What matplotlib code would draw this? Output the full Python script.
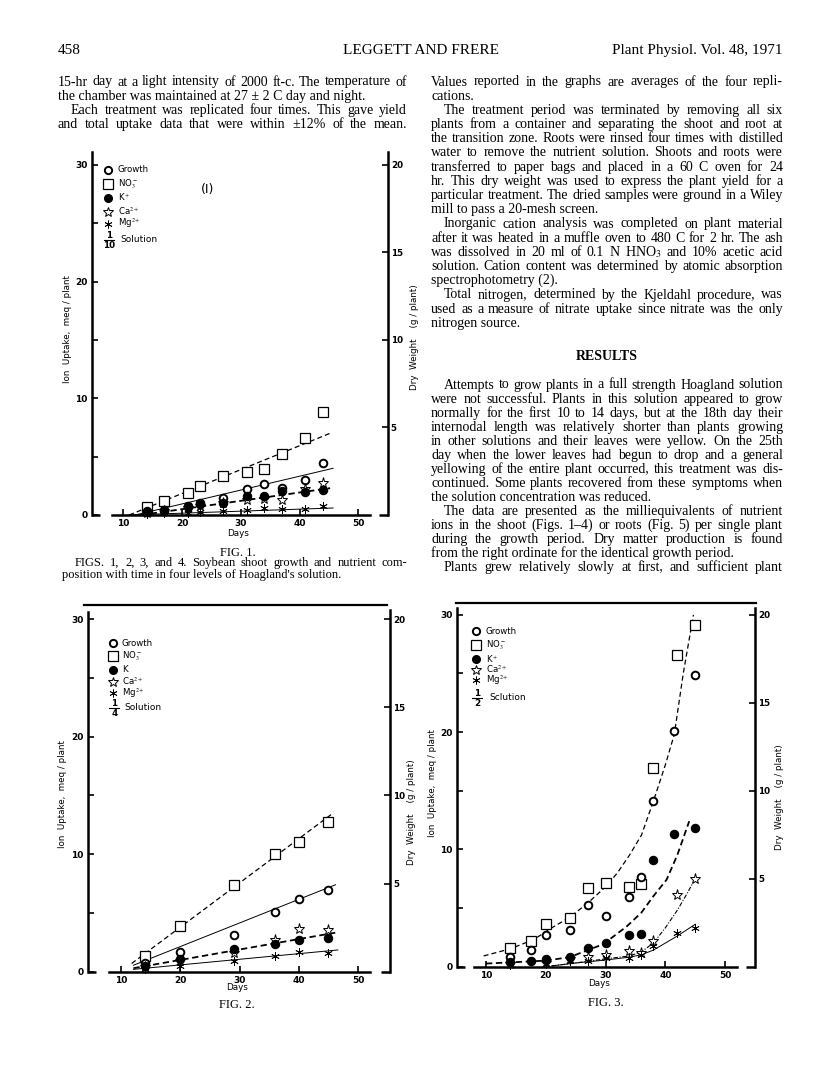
import matplotlib
matplotlib.use("Agg")
import matplotlib.pyplot as plt
from matplotlib.lines import Line2D
from matplotlib.transforms import Affine2D

plt.rcParams["mathtext.fontset"] = "stix"

W, H = 816, 1076
SERIF = ["Liberation Serif", "DejaVu Serif"]
SANS = ["DejaVu Sans"]

# %% Data (all in left-axis units, meq/plant)
# Fig. 1 (1/10 solution)
f1_days = [14, 17, 21, 23, 27, 31, 34, 37, 41, 44]
f1_growth = [0.25, 0.45, 0.8, 1.0, 1.45, 2.2, 2.65, 2.35, 3.0, 4.45]
f1_no3 = [0.7, 1.2, 1.9, 2.5, 3.3, 3.7, 3.9, 5.2, 6.6, 8.8]
f1_k = [0.3, 0.35, 0.7, 0.95, 1.05, 1.6, 1.65, 2.05, 1.95, 2.1]
f1_ca = [0.2, 0.3, 0.6, 0.8, 1.0, 1.3, 1.4, 1.3, 2.25, 2.75]
f1_mg = [0.1, 0.15, 0.2, 0.25, 0.3, 0.4, 0.6, 0.5, 0.5, 0.75]
f1_fit_no3 = ([11, 45.2], [0, 7.0])
f1_fit_growth = ([12, 45.7], [0, 4.0])
f1_fit_k = ([13, 45.2], [0, 2.3])
f1_fit_mg = ([11, 45.7], [0, 0.6])

# Fig. 2 (1/4 solution)
f2_days = [14, 20, 29, 36, 40, 45]
f2_growth = [0.7, 1.65, 3.15, 5.1, 6.2, 6.95]
f2_no3 = [1.3, 3.85, 7.35, 10.0, 11.0, 12.7]
f2_k = [0.5, 1.05, 1.9, 2.35, 2.7, 2.85]
f2_ca = [0.4, 0.9, 1.6, 2.7, 3.65, 3.55]
f2_mg = [0.2, 0.5, 0.95, 1.35, 1.7, 1.55]
f2_fit_no3 = ([11.8, 45.8], [0.7, 13.5])
f2_fit_growth = ([12.1, 46.2], [0.55, 7.4])
f2_fit_k = ([12.1, 46.5], [0.3, 3.35])
f2_fit_mg = ([12.1, 46.6], [0.2, 1.85])

# Fig. 3 (1/2 solution)
f3_days = [14, 17.5, 20, 24, 27, 30, 34, 36, 38, 41.5, 45]
f3_days_no3 = [14, 17.5, 20, 24, 27, 30, 34, 36, 38, 42, 45]
f3_growth = [0.8, 1.45, 2.7, 3.15, 5.25, 4.35, 5.9, 7.6, 14.1, 20.1, 24.9]
f3_no3 = [1.6, 2.2, 3.6, 4.1, 6.7, 7.1, 6.8, 7.0, 16.9, 26.6, 29.1]
f3_k = [0.35, 0.45, 0.6, 0.85, 1.55, 2.0, 2.65, 2.75, 9.05, 11.3, 11.8]
f3_days_cm = [14, 20, 24, 27, 30, 34, 36, 38, 42, 45]
f3_ca = [0.2, 0.3, 0.65, 0.8, 0.95, 1.35, 1.15, 2.2, 6.1, 7.45]
f3_mg = [0.15, 0.2, 0.45, 0.5, 0.7, 0.75, 0.95, 1.75, 2.85, 3.25]
f3_fit_no3 = ([9.6, 14, 18, 21, 24, 27, 30, 32, 34, 36, 38, 40, 41.5, 43, 44.7],
              [0.9, 1.5, 2.3, 3.3, 4.2, 5.4, 6.8, 8.0, 9.5, 11.2, 14.1, 17.2, 19.8, 25.0, 30.0])
f3_fit_k = ([10, 20, 24, 29.6, 33.5, 36, 38, 40.2, 42, 44],
            [0.25, 0.5, 0.8, 1.9, 3.4, 4.6, 6.0, 7.4, 9.5, 12.4])
f3_fit_ca = ([21, 25, 30, 34, 36, 38, 40, 42, 43.5, 45],
             [0.05, 0.3, 0.65, 0.9, 1.25, 2.0, 3.3, 4.8, 6.1, 7.5])
f3_fit_mg = ([21, 25, 30, 34, 36, 38, 40, 42, 45],
             [0.05, 0.3, 0.55, 0.8, 1.0, 1.4, 2.0, 2.6, 3.6])

# %% Page text
header = ("458", "LEGGETT AND FRERE", "Plant Physiol. Vol. 48, 1971")
left_col = [
    ("15-hr day at a light intensity of 2000 ft-c. The temperature of", 0, True),
    ("the chamber was maintained at 27 ± 2 C day and night.", 0, False),
    ("Each treatment was replicated four times. This gave yield", 1, True),
    ("and total uptake data that were within ±12% of the mean.", 0, True),
]
right_col = [
    ("Values reported in the graphs are averages of the four repli-", 0, True),
    ("cations.", 0, False),
    ("The treatment period was terminated by removing all six", 1, True),
    ("plants from a container and separating the shoot and root at", 0, True),
    ("the transition zone. Roots were rinsed four times with distilled", 0, True),
    ("water to remove the nutrient solution. Shoots and roots were", 0, True),
    ("transferred to paper bags and placed in a 60 C oven for 24", 0, True),
    ("hr. This dry weight was used to express the plant yield for a", 0, True),
    ("particular treatment. The dried samples were ground in a Wiley", 0, True),
    ("mill to pass a 20-mesh screen.", 0, False),
    ("Inorganic cation analysis was completed on plant material", 1, True),
    ("after it was heated in a muffle oven to 480 C for 2 hr. The ash", 0, True),
    ("was dissolved in 20 ml of 0.1 N HNO$_3$ and 10% acetic acid", 0, True),
    ("solution. Cation content was determined by atomic absorption", 0, True),
    ("spectrophotometry (2).", 0, False),
    ("Total nitrogen, determined by the Kjeldahl procedure, was", 1, True),
    ("used as a measure of nitrate uptake since nitrate was the only", 0, True),
    ("nitrogen source.", 0, False),
]
results_col = [
    ("Attempts to grow plants in a full strength Hoagland solution", 1, True),
    ("were not successful. Plants in this solution appeared to grow", 0, True),
    ("normally for the first 10 to 14 days, but at the 18th day their", 0, True),
    ("internodal length was relatively shorter than plants growing", 0, True),
    ("in other solutions and their leaves were yellow. On the 25th", 0, True),
    ("day when the lower leaves had begun to drop and a general", 0, True),
    ("yellowing of the entire plant occurred, this treatment was dis-", 0, True),
    ("continued. Some plants recovered from these symptoms when", 0, True),
    ("the solution concentration was reduced.", 0, False),
    ("The data are presented as the milliequivalents of nutrient", 1, True),
    ("ions in the shoot (Figs. 1–4) or roots (Fig. 5) per single plant", 0, True),
    ("during the growth period. Dry matter production is found", 0, True),
    ("from the right ordinate for the identical growth period.", 0, False),
    ("Plants grew relatively slowly at first, and sufficient plant", 1, True),
]
caption = [
    ("FIGS. 1, 2, 3, and 4. Soybean shoot growth and nutrient com-", 1, True),
    ("position with time in four levels of Hoagland's solution.", 0, False),
]

fig = plt.figure(figsize=(W / 100, H / 100), dpi=100)
fig.patch.set_facecolor("white")
PX = Affine2D().scale(1 / W, -1 / H).translate(0, 1) + fig.transFigure
renderer = fig.canvas.get_renderer()


def text_w(s, size, weight="normal"):
    t = fig.text(0, 0, s, fontsize=size, family=SERIF, weight=weight)
    w = t.get_window_extent(renderer).width
    t.remove()
    return w


def put_line(s, x0, x1, y, size, justify):
    words = s.split(" ")
    if not justify or len(words) == 1:
        fig.text(x0, y, s, transform=PX, fontsize=size, family=SERIF, va="baseline")
        return
    widths = [text_w(w, size) for w in words]
    gap = max((x1 - x0 - sum(widths)) / (len(words) - 1), 1.8)
    x = x0
    for w, wd in zip(words, widths):
        fig.text(x, y, w, transform=PX, fontsize=size, family=SERIF, va="baseline")
        x += wd + gap


def put_block(lines, x0, x1, y0, step, size=10.0, indent=13):
    for i, (s, ind, just) in enumerate(lines):
        put_line(s, x0 + ind * indent, x1, y0 + i * step, size, just)


# %% Header and body text
fig.text(58, 54, header[0], transform=PX, fontsize=11, family=SERIF, va="baseline")
fig.text(421, 54, header[1], transform=PX, fontsize=11, family=SERIF, va="baseline", ha="center")
fig.text(783, 54, header[2], transform=PX, fontsize=11, family=SERIF, va="baseline", ha="right")

put_block(left_col, 58, 407, 85.5, 14.2)
put_block(right_col, 431, 783, 85.5, 14.2)
fig.text(607, 360, "RESULTS", transform=PX, fontsize=10, family=SERIF, weight="bold",
         va="baseline", ha="center")
put_block(results_col, 431, 783, 388.5, 14.03)
put_block(caption, 62, 407, 566, 12.3, size=9.0)

for label, (cx, cy) in zip(["FIG. 1.", "FIG. 2.", "FIG. 3."],
                           [(238, 555.5), (237, 1008.5), (606, 1006.5)]):
    fig.text(cx, cy, label, transform=PX, fontsize=9, family=SERIF, va="baseline", ha="center")

# %% Marker and line styles
STY = {
    "growth": dict(marker="o", ms=5.5, mfc="white", mec="k", mew=1.4),
    "no3": dict(marker="s", ms=7, mfc="white", mec="k", mew=0.9),
    "k": dict(marker="o", ms=6, mfc="k", mec="k", mew=0.8),
    "ca": dict(marker="*", ms=8, mfc="white", mec="k", mew=0.7),
    "mg": dict(marker=(6, 2, 0), ms=6, mfc="k", mec="k", mew=0.6),
}
LS = {
    "no3": dict(ls=(0, (4, 2.5)), lw=0.9),
    "growth": dict(ls="-", lw=0.7),
    "k": dict(ls=(0, (3.5, 2)), lw=1.3),
    "mg": dict(ls="-", lw=0.7),
    "ca": dict(ls=(0, (4, 1.5, 1, 1.5)), lw=0.8),
}


def panel(l, r, b, t, xlim, ytop, ltop, rtop):
    ax = fig.add_axes([l / W, 1 - b / H, (r - l) / W, (b - t) / H])
    ax.set_xlim(xlim)
    ax.set_ylim(0, ytop)
    ax.patch.set_visible(False)
    for s in ("top", "right"):
        ax.spines[s].set_visible(False)
    ax.spines["left"].set_bounds(0, ltop)
    ax.spines["bottom"].set_bounds(8, 52)
    for s in ("left", "bottom"):
        ax.spines[s].set_linewidth(1.8)
    ax.set_xticks([10, 20, 30, 40, 50])
    ax.set_yticks([0, 10, 20, 30])
    ax.set_yticks([5, 15, 25], minor=True)
    ax.tick_params(which="both", direction="in", width=1.2, length=4, labelsize=6.5, pad=3)
    ax2 = ax.twinx()
    ax2.set_ylim(0, ytop * 2 / 3)
    for s in ("top", "left", "bottom"):
        ax2.spines[s].set_visible(False)
    ax2.spines["right"].set_bounds(0, rtop * 2 / 3)
    ax2.spines["right"].set_linewidth(1.8)
    ax2.set_yticks([5, 10, 15, 20])
    ax2.tick_params(direction="in", width=1.2, length=4, labelsize=6.3, pad=2.2)
    for lab in ax.get_xticklabels() + ax.get_yticklabels() + ax2.get_yticklabels():
        lab.set_fontweight("bold")
        lab.set_family(SANS)
    # short feet at the base of the two vertical axes
    ax.plot([xlim[0], xlim[0] + 1.4], [0, 0], color="k", lw=1.8, clip_on=False, solid_capstyle="butt")
    ax.plot([xlim[1] - 1.5, xlim[1]], [0, 0], color="k", lw=1.8, clip_on=False, solid_capstyle="butt")
    ax.set_xlabel("Days", fontsize=6.3, family=SANS)
    ax.set_ylabel("Ion  Uptake,  meq / plant", fontsize=6.3, family=SANS)
    ax2.set_ylabel("Dry  Weight    (g / plant)", fontsize=6.3, family=SANS)
    return ax, ax2


def label_pos(ax, ax2, l, r, b, t, xl, yl, xr, yr, xd, yd):
    # label anchors sit on the text edge, so shift by about half a text height
    w, h = r - l, b - t
    ax.yaxis.set_label_coords((xl + 4 - l) / w, (b - yl) / h)
    ax2.yaxis.set_label_coords((xr - 4 - l) / w, (b - yr) / h)
    ax.xaxis.set_label_coords((xd - l) / w, (b - yd + 4) / h)


def fits(ax, items):
    for key, (xs, ys) in items:
        ax.plot(xs, ys, color="k", clip_on=False, **LS[key])


def points(ax, items):
    for key, xs, ys in items:
        ax.plot(xs, ys, ls="none", clip_on=False, zorder=3, **STY[key])


def key_box(x, rows, labels, den, word, sol_y, tx):
    for k, y, lab in zip(["growth", "no3", "k", "ca", "mg"], rows, labels):
        st = dict(STY[k])
        st["ms"] = st["ms"] * 0.95
        fig.add_artist(Line2D([x], [y], transform=PX, ls="none", **st))
        fig.text(tx, y, lab, transform=PX, fontsize=6.2, family=SANS, va="center")
    # stacked fraction: 1 over the denominator
    fig.text(x + 1, sol_y - 5, "1", transform=PX, fontsize=6.3, family=SANS, weight="bold",
             va="center", ha="center")
    fig.text(x + 1, sol_y + 5, den, transform=PX, fontsize=6.3, family=SANS, weight="bold",
             va="center", ha="center")
    fig.add_artist(Line2D([x - 4, x + 6], [sol_y, sol_y], transform=PX, color="k", lw=0.8))
    fig.text(tx + 3, sol_y, word, transform=PX, fontsize=6.5, family=SANS, va="center")


# %% Fig. 1
b1 = (92, 387.7, 515, 152)
ax, ax2 = panel(*b1, xlim=(4.67, 55.0), ytop=31.1, ltop=31.1, rtop=31.1)
label_pos(ax, ax2, *b1, 68, 329, 414, 337, 238, 533)
fits(ax, [("no3", f1_fit_no3), ("growth", f1_fit_growth), ("k", f1_fit_k), ("mg", f1_fit_mg)])
points(ax, [("no3", f1_days, f1_no3), ("growth", f1_days, f1_growth), ("ca", f1_days, f1_ca),
            ("k", f1_days, f1_k), ("mg", f1_days, f1_mg)])
key_box(108, [170, 184, 197.7, 211.7, 223.5],
        ["Growth", "NO$_3^-$", "K$^+$", "Ca$^{2+}$", "Mg$^{2+}$"],
        "10", "Solution", 240, 117.7)
fig.text(208, 190, "(I)", transform=PX, fontsize=9, family=SANS, va="center", ha="center")

# %% Fig. 2
b2 = (87.7, 390, 971.7, 605.1)
ax, ax2 = panel(*b2, xlim=(4.38, 55.4), ytop=31.2, ltop=30.6, rtop=30.8)
label_pos(ax, ax2, *b2, 63, 794, 411, 812, 237, 987)
ax.plot([3.8, 54.9], [31.2, 31.2], color="k", lw=1.6, clip_on=False)
fits(ax, [("no3", f2_fit_no3), ("growth", f2_fit_growth), ("k", f2_fit_k), ("mg", f2_fit_mg)])
points(ax, [("no3", f2_days, f2_no3), ("growth", f2_days, f2_growth), ("ca", f2_days, f2_ca),
            ("k", f2_days, f2_k), ("mg", f2_days, f2_mg)])
key_box(113.3, [643, 656, 670, 681.7, 693.3],
        ["Growth", "NO$_3^-$", "K", "Ca$^{2+}$", "Mg$^{2+}$"],
        "4", "Solution", 708, 121.7)

# %% Fig. 3
b3 = (456.7, 755, 966.5, 602.7)
ax, ax2 = panel(*b3, xlim=(5.1, 55.0), ytop=31.04, ltop=30.6, rtop=30.6)
label_pos(ax, ax2, *b3, 433, 783, 779, 797, 599, 983)
ax.plot([5.0, 55.1], [31.04, 31.04], color="k", lw=1.6, clip_on=False)
fits(ax, [("no3", f3_fit_no3), ("k", f3_fit_k), ("ca", f3_fit_ca), ("mg", f3_fit_mg)])
points(ax, [("no3", f3_days_no3, f3_no3), ("growth", f3_days, f3_growth), ("ca", f3_days_cm, f3_ca),
            ("k", f3_days, f3_k), ("mg", f3_days_cm, f3_mg)])
key_box(476, [631, 645, 659, 669.5, 680],
        ["Growth", "NO$_3^-$", "K$^+$", "Ca$^{2+}$", "Mg$^{2+}$"],
        "2", "Sclution", 698, 486)

fig.savefig("out.png", dpi=100, facecolor="white")
